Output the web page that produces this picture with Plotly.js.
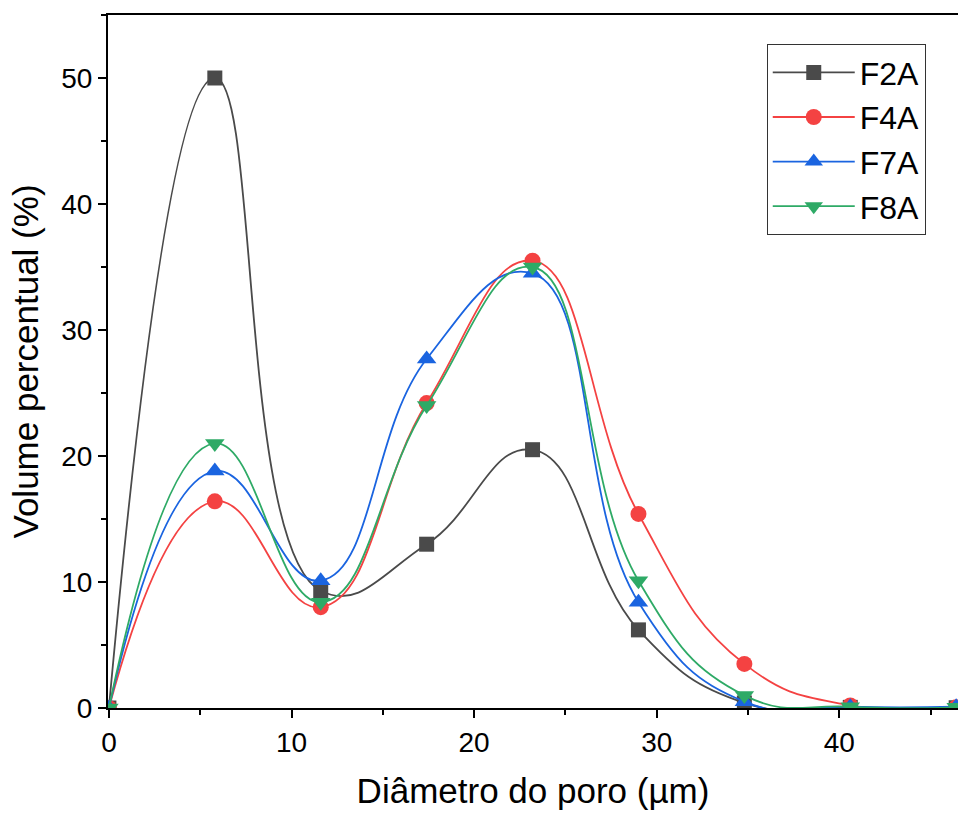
<!DOCTYPE html>
<html>
<head>
<meta charset="utf-8">
<script src="https://cdn.plot.ly/plotly-3.0.1.min.js"></script>
<style>
  html, body { margin: 0; padding: 0; background: #fff; }
  #chart { width: 958px; height: 816px; }
</style>
</head>
<body>
<div id="chart"></div>
<script>
// Pore diameter classes (µm)
const diameter = [0, 5.8, 11.6, 17.4, 23.2, 29.0, 34.8, 40.6, 46.4];

// Volume percentage per sample (%)
const f2a = [0, 50.0, 9.3, 13.0, 20.5, 6.2, 0.4, 0.05, 0.02];
const f4a = [0, 16.4, 8.0, 24.2, 35.5, 15.4, 3.5, 0.2, 0.05];
const f7a = [0, 18.8, 10.1, 27.7, 34.5, 8.4, 0.5, 0.1, 0.1];
const f8a = [0, 21.0, 8.4, 24.0, 35.0, 10.1, 1.0, 0.1, 0.05];

const seriesNames = ['F2A', 'F4A', 'F7A', 'F8A'];
const seriesValues = [f2a, f4a, f7a, f8a];
const seriesColors = ['#4a4a4a', '#f44242', '#1a64e0', '#2eaa66'];
const seriesSymbols = ['square', 'circle', 'triangle-up', 'triangle-down'];
const markerSizes = [15, 16, 17, 17];

const traces = seriesNames.map((name, i) => ({
  type: 'scatter',
  mode: 'lines+markers',
  name: name,
  x: diameter,
  y: seriesValues[i],
  line: { color: seriesColors[i], width: 1.8, shape: 'spline', smoothing: 1.3 },
  marker: { color: seriesColors[i], symbol: seriesSymbols[i], size: markerSizes[i] }
}));

const fontFamily = '"Liberation Sans", Arial, sans-serif';

const layout = {
  width: 958,
  height: 816,
  margin: { l: 108, r: 0, t: 15, b: 108 },
  paper_bgcolor: '#ffffff',
  plot_bgcolor: '#ffffff',
  font: { family: fontFamily, color: '#000' },
  showlegend: true,
  legend: {
    x: 0.775, y: 0.958, xanchor: 'left', yanchor: 'top',
    bgcolor: '#ffffff', bordercolor: '#333', borderwidth: 1,
    font: { size: 32, family: fontFamily, color: '#000' },
    itemwidth: 82,
    tracegroupgap: 0
  },
  xaxis: {
    range: [-0.05, 46.5],
    showgrid: false, zeroline: false,
    showline: true, linecolor: '#000', linewidth: 2,
    mirror: true,
    ticks: 'outside', ticklen: 8, tickwidth: 2, tickcolor: '#000',
    dtick: 10, tick0: 0,
    minor: { ticks: 'outside', ticklen: 5, tickwidth: 2, tickcolor: '#000', dtick: 5 },
    tickfont: { size: 28, family: fontFamily, color: '#000' },
    title: { text: 'Diâmetro do poro (µm)', font: { size: 35, family: fontFamily, color: '#000' }, standoff: 22 }
  },
  yaxis: {
    range: [0, 55],
    showgrid: false, zeroline: false,
    showline: true, linecolor: '#000', linewidth: 2,
    mirror: false,
    ticks: 'outside', ticklen: 8, tickwidth: 2, tickcolor: '#000',
    dtick: 10, tick0: 0,
    minor: { ticks: 'outside', ticklen: 5, tickwidth: 2, tickcolor: '#000', dtick: 5 },
    tickfont: { size: 28, family: fontFamily, color: '#000' },
    title: { text: 'Volume percentual (%)', font: { size: 35, family: fontFamily, color: '#000' }, standoff: 12 }
  }
};

Plotly.newPlot('chart', traces, layout, { displayModeBar: false, staticPlot: true });
</script>
</body>
</html>
